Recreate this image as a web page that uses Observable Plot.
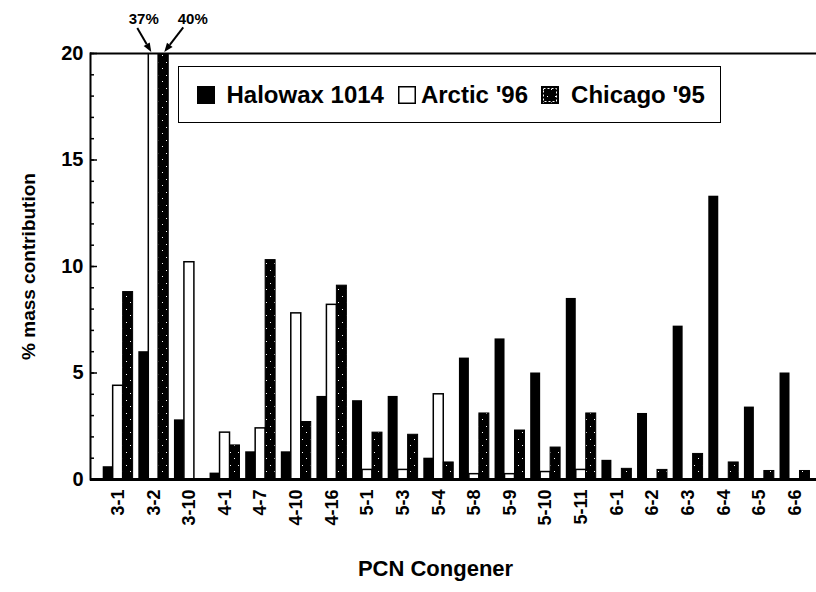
<!DOCTYPE html>
<html>
<head>
<meta charset="utf-8">
<script src="https://cdn.jsdelivr.net/npm/d3@7"></script>
<script src="https://cdn.jsdelivr.net/npm/@observablehq/plot@0.6"></script>
<style>
  body { margin: 0; background: #fff; }
  #wrap { position: relative; width: 816px; height: 592px; font-family: "Liberation Sans", Arial, Helvetica, sans-serif; }
  #legend { position: absolute; left: 178px; top: 66px; height: 57px; box-sizing: border-box;
            border: 1.5px solid #000; background: #fff; display: inline-flex; align-items: center;
            font-weight: bold; font-size: 24px; color: #000; padding: 0 15px 0 17.5px; white-space: nowrap; }
  #legend svg { flex: none; display: block; }
</style>
</head>
<body>
<svg width="0" height="0" style="position:absolute">
  <defs>
    <pattern id="speckle" patternUnits="userSpaceOnUse" width="8" height="13">
      <rect width="8" height="13" fill="#000"></rect>
      <rect x="2" y="3" width="1" height="1" fill="#fff"></rect>
      <rect x="6" y="10" width="1" height="1" fill="#fff"></rect>
    </pattern>
  </defs>
</svg>
<div id="wrap"></div>
<script>
// ---- data ----
const categories = ["3-1","3-2","3-10","4-1","4-7","4-10","4-16","5-1","5-3","5-4","5-8","5-9","5-10","5-11","6-1","6-2","6-3","6-4","6-5","6-6"];
const seriesNames = ["Halowax 1014", "Arctic '96", "Chicago '95"];
const halowax = [0.6, 6.0, 2.8, 0.3, 1.3, 1.3, 3.9, 3.7, 3.9, 1.0, 5.7, 6.6, 5.0, 8.5, 0.9, 3.1, 7.2, 13.3, 3.4, 5.0];
const arctic  = [4.4, 37, 10.2, 2.2, 2.4, 7.8, 8.2, 0.45, 0.45, 4.0, 0.25, 0.25, 0.35, 0.45, 0, 0, 0, 0, 0, 0];
const chicago = [8.8, 40, 0, 1.6, 10.3, 2.7, 9.1, 2.2, 2.1, 0.8, 3.1, 2.3, 1.5, 3.1, 0.5, 0.45, 1.2, 0.8, 0.4, 0.4];
const yTicks = [0, 5, 10, 15, 20];
const yMinorTicks = [0,1,2,3,4,5,6,7,8,9,10,11,12,13,14,15,16,17,18,19,20];
const offscaleLabels = ["37%", "40%"];
const offscaleCategory = "3-2";
const xTitle = "PCN Congener";
const yTitle = "% mass contribution";

// ---- layout ----
const W = 816, H = 592, mL = 90, mR = 0, mT = 53, mB = 113;
const bandOpts = { paddingInner: 0.16, paddingOuter: 0.27, align: 0.66 };
const bw = d3.scaleBand().domain(categories).range([mL, W - mR])
  .paddingInner(bandOpts.paddingInner).paddingOuter(bandOpts.paddingOuter).align(bandOpts.align).bandwidth();
const third = bw / 3;
const FONT = '"Liberation Sans", Arial, Helvetica, sans-serif';

const plot = Plot.plot({
  width: W, height: H,
  marginLeft: mL, marginRight: mR, marginTop: mT, marginBottom: mB,
  style: { fontFamily: FONT, background: "white", overflow: "visible", color: "black" },
  x: { type: "band", domain: categories, ...bandOpts, round: false },
  y: { domain: [0, 20] },
  marks: [
    Plot.barY(categories, { x: d => d, y: (d, i) => halowax[i], fill: "black", insetLeft: 0, insetRight: 2 * third, clip: true }),
    Plot.barY(categories, { x: d => d, y: (d, i) => arctic[i], fill: "white", stroke: "black", strokeWidth: 1.5, insetLeft: third, insetRight: third, clip: true }),
    Plot.barY(categories, { x: d => d, y: (d, i) => chicago[i], fill: "url(#speckle)", stroke: "black", strokeWidth: 1, insetLeft: 2 * third, insetRight: 0, clip: true }),
    Plot.ruleY([0], { stroke: "black", strokeWidth: 3 }),
    Plot.ruleY([20], { stroke: "black", strokeWidth: 2 }),
    Plot.frame({ anchor: "left", stroke: "black", strokeWidth: 2 }),
    Plot.axisY(yMinorTicks, { tickSize: -4, tickFormat: () => "", strokeWidth: 1.5, label: null }),
    Plot.axisY(yTicks, { tickSize: -7, tickPadding: 14, strokeWidth: 1.5, fontSize: 20, fontWeight: "bold", label: null }),
    Plot.axisX({ tickRotate: -90, tickSize: 0, tickPadding: 10, fontSize: 18, fontWeight: "bold", label: null }),
    Plot.text([yTitle], { frameAnchor: "left", rotate: -90, dx: -62, textAnchor: "middle", lineAnchor: "middle", fontSize: 19, fontWeight: "bold" }),
    Plot.text([xTitle], { frameAnchor: "bottom", dy: 89, dx: -18, textAnchor: "middle", lineAnchor: "middle", fontSize: 22, fontWeight: "bold" }),
    Plot.text([offscaleLabels[0]], { x: () => offscaleCategory, y: () => 21.6, dx: -10, fontSize: 15, fontWeight: "bold", lineAnchor: "middle" }),
    Plot.text([offscaleLabels[1]], { x: () => offscaleCategory, y: () => 21.6, dx: 39, fontSize: 15, fontWeight: "bold", lineAnchor: "middle" })
  ]
});

// arrows pointing at the off-scale bars, positioned through the plot's scales
const xs = plot.scale("x"), ys = plot.scale("y");
const start = xs.apply(offscaleCategory);
const arcticC = start + third * 1.5, chicagoC = start + third * 2.5;
const svg = d3.select(plot);
function arrow(x1, y1, x2, y2) {
  const ang = Math.atan2(y2 - y1, x2 - x1), L = 9, Wd = 3.5;
  const bx = x2 - L * Math.cos(ang), by = y2 - L * Math.sin(ang);
  svg.append("line").attr("x1", x1).attr("y1", y1).attr("x2", bx).attr("y2", by)
    .attr("stroke", "black").attr("stroke-width", 2);
  svg.append("polygon").attr("fill", "black").attr("points", [
    [x2, y2],
    [bx + Wd * Math.sin(ang), by - Wd * Math.cos(ang)],
    [bx - Wd * Math.sin(ang), by + Wd * Math.cos(ang)]
  ].map(p => p.join(",")).join(" "));
}
arrow(arcticC - 16, ys.apply(21.17), arcticC - 2, ys.apply(20.05));
arrow(chicagoC + 20, ys.apply(21.2), chicagoC + 1, ys.apply(20.05));

const wrap = document.getElementById("wrap");
wrap.appendChild(plot);

// legend (HTML, drawn over the chart)
const legend = document.createElement("div");
legend.id = "legend";
const sw = (kind) => {
  const fill = kind === 0 ? "#000" : kind === 1 ? "#fff" : "url(#speckle)";
  return `<svg width="18" height="18"><rect x="0.75" y="0.75" width="16.5" height="16.5" fill="${fill}" stroke="#000" stroke-width="1.5"></rect>` +
    (kind === 2 ? `<rect x="2.5" y="2.5" width="13" height="13" fill="none" stroke="#fff" stroke-width="1" stroke-dasharray="2 2"></rect>` : "") + `</svg>`;
};
legend.innerHTML =
  `${sw(0)}<span style="margin-left:12px">${seriesNames[0]}</span>` +
  `<span style="margin-left:14px;display:inline-flex">${sw(1)}</span><span style="margin-left:5px">${seriesNames[1]}</span>` +
  `<span style="margin-left:13px;display:inline-flex">${sw(2)}</span><span style="margin-left:12px">${seriesNames[2]}</span>`;
wrap.appendChild(legend);
</script>
</body>
</html>
